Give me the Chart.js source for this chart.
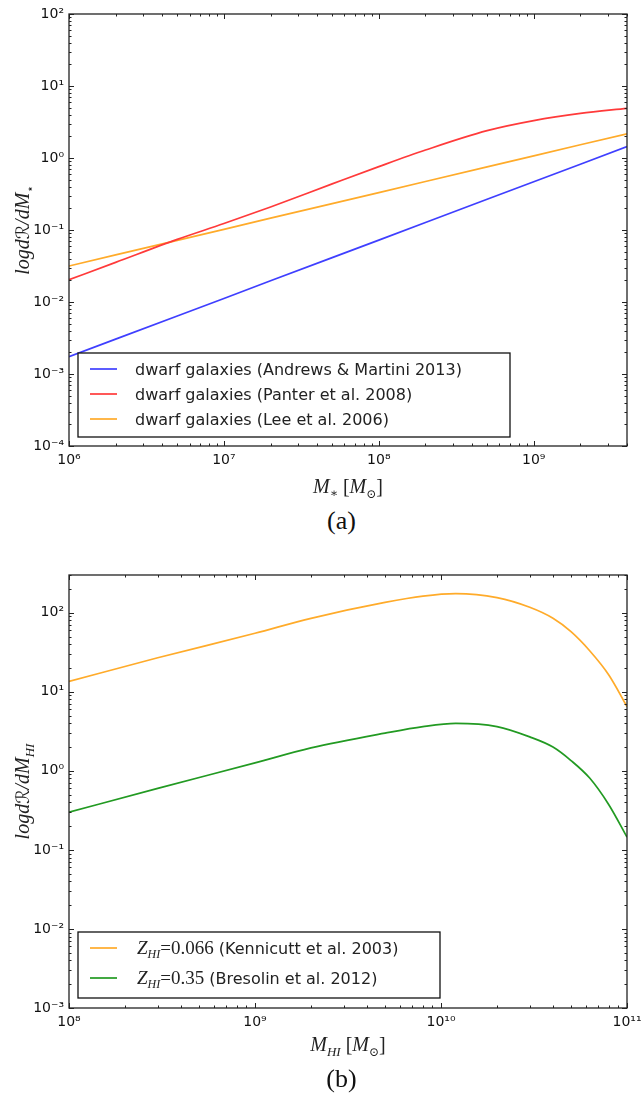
<!DOCTYPE html>
<html><head><meta charset="utf-8">
<script src="https://cdn.jsdelivr.net/npm/chart.js@4.4.0/dist/chart.umd.min.js"></script>
<style>
html,body{margin:0;padding:0;background:#fff;width:643px;height:1111px;overflow:hidden;}
canvas{position:absolute;left:0;}
#ca{top:0;}
#cb{top:560px;}
.cap{position:absolute;width:643px;text-align:center;font-family:"Liberation Serif",serif;font-size:26px;color:#111;}
</style></head><body>
<canvas id="ca" width="643" height="505"></canvas>
<canvas id="cb" width="643" height="505"></canvas>
<div class="cap" style="top:506px;left:20px">(a)</div>
<div class="cap" style="top:1064px;left:20px">(b)</div>
<script>
// ---------- data: panel (a) ----------
const massA    = [1e6, 2e6, 5e6, 1e7, 2e7, 5e7, 1e8, 2e8, 5e8, 1e9, 2e9, 4e9];
const andrewsA = [0.00174, 0.00305, 0.0064, 0.0112, 0.0197, 0.0413, 0.0724, 0.127, 0.267, 0.468, 0.82, 1.44];
const panterA  = [0.0204, 0.0355, 0.0741, 0.123, 0.209, 0.437, 0.759, 1.29, 2.40, 3.31, 4.17, 4.90];
const leeA     = [0.0316, 0.0451, 0.0719, 0.102, 0.146, 0.233, 0.331, 0.472, 0.752, 1.07, 1.53, 2.17];
const labelsA  = ['dwarf galaxies (Andrews & Martini 2013)', 'dwarf galaxies (Panter et al. 2008)', 'dwarf galaxies (Lee et al. 2006)'];
const xTicksA      = [1e6, 1e7, 1e8, 1e9];
const xTickLabelsA = ['10⁶', '10⁷', '10⁸', '10⁹'];
const yTicksA      = [1e-4, 1e-3, 1e-2, 1e-1, 1, 10, 100];
const yTickLabelsA = ['10⁻⁴', '10⁻³', '10⁻²', '10⁻¹', '10⁰', '10¹', '10²'];

// ---------- data: panel (b) ----------
const massB       = [1e8, 3e8, 1e9, 2e9, 5e9, 8e9, 1.2e10, 2e10, 3e10, 4e10, 5e10, 6.3e10, 8e10, 1e11];
const kennicuttB  = [13.5, 26.9, 55, 85, 135, 162, 174, 155, 117, 85, 57.5, 33, 16.2, 6.5];
const bresolinB   = [0.30, 0.60, 1.26, 1.95, 3.0, 3.63, 3.98, 3.63, 2.69, 2.0, 1.35, 0.81, 0.37, 0.145];
const labelsB     = ['Z_HI=0.066 (Kennicutt et al. 2003)', 'Z_HI=0.35 (Bresolin et al. 2012)'];
const xTicksB      = [1e8, 1e9, 1e10, 1e11];
const xTickLabelsB = ['10⁸', '10⁹', '10¹⁰', '10¹¹'];
const yTicksB      = [1e-3, 1e-2, 1e-1, 1, 10, 100];
const yTickLabelsB = ['10⁻³', '10⁻²', '10⁻¹', '10⁰', '10¹', '10²'];

// ---------- helpers ----------
const MI = (s) => 'italic ' + s + 'px "Liberation Serif", "DejaVu Serif", serif';
const MR = (s) => s + 'px "Liberation Serif", "DejaVu Serif", serif';
const SY = (s) => s + 'px "DejaVu Serif", "DejaVu Sans", serif';
const SANS = (s) => s + 'px "DejaVu Sans", sans-serif';

function richWidth(ctx, segs) {
  let w = 0; for (const s of segs) { ctx.font = s.f; w += ctx.measureText(s.t).width; } return w;
}
function drawRich(ctx, segs, x, y, opts) {
  opts = opts || {};
  ctx.save();
  ctx.translate(x, y);
  if (opts.rotate) ctx.rotate(-Math.PI / 2);
  let cx = opts.align === 'left' ? 0 : -richWidth(ctx, segs) / 2;
  ctx.textBaseline = 'alphabetic';
  ctx.textAlign = 'left';
  ctx.fillStyle = opts.color || '#222';
  for (const s of segs) { ctx.font = s.f; ctx.fillText(s.t, cx, s.dy || 0); cx += ctx.measureText(s.t).width; }
  ctx.restore();
}
function pairs(xs, ys) { return xs.map((x, i) => ({ x: x, y: ys[i] })); }
function logTickValues(min, max) {
  const out = [];
  for (let e = Math.floor(Math.log10(min)); e <= Math.ceil(Math.log10(max)); e++) {
    for (let m = 1; m <= 9; m++) {
      const v = m * Math.pow(10, e);
      if (v >= min * 0.999 && v <= max * 1.001) out.push({ v: v, major: m === 1 });
    }
  }
  return out;
}

// frame + inward ticks on all four sides (classic matplotlib look)
const frameTicks = {
  id: 'frameTicks',
  afterDatasetsDraw(chart) {
    const { ctx, chartArea: { left, right, top, bottom }, scales: { x, y } } = chart;
    ctx.save();
    ctx.strokeStyle = '#222';
    ctx.lineWidth = 1;
    ctx.beginPath();
    for (const t of logTickValues(x.min, x.max)) {
      const px = Math.round(x.getPixelForValue(t.v)) + 0.5;
      const len = t.major ? 5 : 2.5;
      ctx.moveTo(px, bottom); ctx.lineTo(px, bottom - len);
      ctx.moveTo(px, top); ctx.lineTo(px, top + len);
    }
    for (const t of logTickValues(y.min, y.max)) {
      const py = Math.round(y.getPixelForValue(t.v)) + 0.5;
      const len = t.major ? 5 : 2.5;
      ctx.moveTo(left, py); ctx.lineTo(left + len, py);
      ctx.moveTo(right, py); ctx.lineTo(right - len, py);
    }
    ctx.stroke();
    ctx.lineWidth = 1.3;
    ctx.strokeRect(left, top, right - left, bottom - top);
    ctx.restore();
  }
};

// legend box + axis titles
const annot = {
  id: 'annot',
  afterDraw(chart, args, o) {
    const ctx = chart.ctx;
    const ca = chart.chartArea;
    drawRich(ctx, o.xTitle, (ca.left + ca.right) / 2, o.xTitleY);
    drawRich(ctx, o.yTitle, o.yTitleX, (ca.top + ca.bottom) / 2, { rotate: true });
    const b = o.box;
    ctx.save();
    ctx.fillStyle = '#fff';
    ctx.fillRect(b.x, b.y, b.w, b.h);
    ctx.strokeStyle = '#111';
    ctx.lineWidth = 1.3;
    ctx.strokeRect(b.x, b.y, b.w, b.h);
    chart.data.datasets.forEach((ds, i) => {
      const ry = o.rows[i];
      ctx.strokeStyle = ds.borderColor;
      ctx.lineWidth = ds.borderWidth;
      ctx.beginPath(); ctx.moveTo(o.lineX0, ry); ctx.lineTo(o.lineX1, ry); ctx.stroke();
      drawRich(ctx, o.legendText[i], o.textX, ry + o.baseOff, { align: 'left' });
    });
    ctx.restore();
  }
};

function makeChart(canvasId, cfg) {
  const tickFont = { family: 'DejaVu Sans', size: 14 };
  const majorMap = (vals, labs) => (v) => {
    for (let i = 0; i < vals.length; i++) if (Math.abs(Math.log10(v) - Math.log10(vals[i])) < 1e-6) return labs[i];
    return '';
  };
  return new Chart(document.getElementById(canvasId), {
    type: 'scatter',
    data: { datasets: cfg.datasets },
    options: {
      responsive: false, animation: false, devicePixelRatio: 1,
      layout: { padding: cfg.padding },
      plugins: { legend: { display: false }, tooltip: { enabled: false }, annot: cfg.annot },
      scales: {
        x: {
          type: 'logarithmic', min: cfg.xMin, max: cfg.xMax,
          grid: { display: false, drawTicks: false }, border: { display: false },
          afterBuildTicks: (s) => { s.ticks = cfg.xTicks.map(v => ({ value: v })); },
          afterFit: (s) => { s.height = cfg.xHeight; s.paddingLeft = 0; s.paddingRight = 0; },
          ticks: { autoSkip: false, maxRotation: 0, minRotation: 0, padding: 6, color: '#111', font: tickFont,
                   callback: majorMap(cfg.xTicks, cfg.xLabels) }
        },
        y: {
          type: 'logarithmic', min: cfg.yMin, max: cfg.yMax,
          grid: { display: false, drawTicks: false }, border: { display: false },
          afterBuildTicks: (s) => { s.ticks = cfg.yTicks.map(v => ({ value: v })); },
          afterFit: (s) => { s.width = 69; s.paddingTop = 0; s.paddingBottom = 0; },
          ticks: { autoSkip: false, padding: 5, color: '#111', font: tickFont,
                   callback: majorMap(cfg.yTicks, cfg.yLabels) }
        }
      }
    },
    plugins: [frameTicks, annot]
  });
}

const lineDs = (label, xs, ys, color, mono) => ({
  label: label, data: pairs(xs, ys), showLine: true, borderColor: color, borderWidth: 1.7,
  pointRadius: 0, fill: false, cubicInterpolationMode: mono ? 'monotone' : 'default', tension: 0
});

const BLUE = '#3f3fff', RED = '#ff3a3a', ORANGE = '#ffab2a', GREEN = '#229a22';

makeChart('ca', {
  datasets: [
    lineDs(labelsA[0], massA, andrewsA, BLUE, false),
    lineDs(labelsA[1], massA, panterA, RED, true),
    lineDs(labelsA[2], massA, leeA, ORANGE, false)
  ],
  padding: { top: 14, right: 16, bottom: 0, left: 0 },
  xMin: 1e6, xMax: 4e9, yMin: 1e-4, yMax: 1e2,
  xTicks: xTicksA, xLabels: xTickLabelsA, yTicks: yTicksA, yLabels: yTickLabelsA,
  xHeight: 59,
  annot: {
    xTitle: [{ t: 'M', f: MI(20) }, { t: '∗', f: SY(12), dy: 4 }, { t: ' [', f: MR(20) }, { t: 'M', f: MI(20) }, { t: '⊙', f: SY(12), dy: 5 }, { t: ']', f: MR(20) }],
    xTitleY: 493,
    yTitle: [{ t: 'logd', f: MI(20) }, { t: 'ℛ', f: SY(18) }, { t: '/d', f: MI(20) }, { t: 'M', f: MI(20) }, { t: '⋆', f: SY(12), dy: 5 }],
    yTitleX: 29,
    box: { x: 78, y: 353, w: 432, h: 84 },
    rows: [369, 394, 419], lineX0: 90, lineX1: 117, textX: 135, baseOff: 6,
    legendText: labelsA.map(l => [{ t: l, f: SANS(16) }])
  }
});

makeChart('cb', {
  datasets: [
    lineDs(labelsB[0], massB, kennicuttB, ORANGE, true),
    lineDs(labelsB[1], massB, bresolinB, GREEN, true)
  ],
  padding: { top: 15, right: 16, bottom: 0, left: 0 },
  xMin: 1e8, xMax: 1e11, yMin: 1e-3, yMax: 300,
  xTicks: xTicksB, xLabels: xTickLabelsB, yTicks: yTicksB, yLabels: yTickLabelsB,
  xHeight: 57,
  annot: {
    xTitle: [{ t: 'M', f: MI(20) }, { t: 'HI', f: MI(13), dy: 5 }, { t: ' [', f: MR(20) }, { t: 'M', f: MI(20) }, { t: '⊙', f: SY(12), dy: 5 }, { t: ']', f: MR(20) }],
    xTitleY: 491,
    yTitle: [{ t: 'logd', f: MI(20) }, { t: 'ℛ', f: SY(18) }, { t: '/d', f: MI(20) }, { t: 'M', f: MI(20) }, { t: 'HI', f: MI(13), dy: 5 }],
    yTitleX: 29,
    box: { x: 78, y: 372, w: 362, h: 66 },
    rows: [388, 418], lineX0: 90, lineX1: 117, textX: 137, baseOff: 6,
    legendText: labelsB.map(l => {
      const m = l.match(/^Z_HI(=[0-9.]+)(.*)$/);
      return [{ t: 'Z', f: MI(19) }, { t: 'HI', f: MI(12), dy: 4 }, { t: m[1], f: MR(19) }, { t: m[2], f: SANS(16) }];
    })
  }
});
</script>
</body></html>
